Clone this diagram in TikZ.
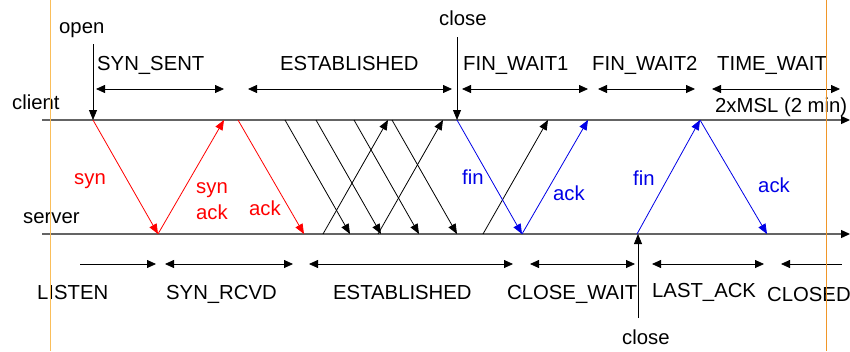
\documentclass[tikz,border=0pt]{standalone}
\usepackage{fontspec}
\setmainfont{Liberation Sans}
\usetikzlibrary{arrows.meta}
\definecolor{msgred}{RGB}{255,0,0}
\definecolor{msgblue}{RGB}{0,0,230}
\definecolor{axisgray}{RGB}{100,100,100}
\definecolor{orangeL}{RGB}{250,190,90}
\definecolor{orangeR}{RGB}{240,150,40}
\begin{document}
\begin{tikzpicture}[x=1pt,y=-1pt,
  lbl/.style={anchor=base west,inner sep=0pt,font=\fontsize{20.3}{23}\selectfont},
  axisline/.style={draw=axisgray,line width=1.3pt,-{Triangle[length=9pt,width=8pt,black]}},
  statearrow/.style={draw=black,line width=0.8pt,{Triangle[length=9pt,width=8pt]}-{Triangle[length=9pt,width=8pt]}},
  staterarrow/.style={draw=black,line width=0.8pt,-{Triangle[length=9pt,width=8pt]}},
  statelarrow/.style={draw=black,line width=0.8pt,{Triangle[length=9pt,width=8pt]}-},
  evarrow/.style={draw=black,line width=0.8pt,-{Triangle[length=10pt,width=8pt]}},
  msg/.style={line width=0.8pt,-{Triangle[length=10pt,width=8pt]}},
  redmsg/.style={msg,draw=msgred,color=msgred},
  bluemsg/.style={msg,draw=msgblue,color=msgblue},
  blackmsg/.style={msg,draw=black},
  orangeline/.style={line width=1pt}
]
\useasboundingbox (0,0) rectangle (850,351);
% axes
\coordinate (cl0) at (42,120); \coordinate (cl1) at (850,120);
\coordinate (sv0) at (42,234); \coordinate (sv1) at (850,234);
\draw[axisline] (cl0) -- (cl1);
\draw[axisline] (sv0) -- (sv1);
\node[lbl] (client) at (12,109) {client};
\node[lbl] (server) at (23,223) {server};

% open / close events
\node[lbl] (open) at (59,33) {open};
\coordinate (openA) at (93,44); \coordinate (openB) at (93,120);
\draw[evarrow] (openA) -- (openB);
\node[lbl] (closeT) at (439,25) {close};
\coordinate (closeTA) at (457,37); \coordinate (closeTB) at (457,120);
\draw[evarrow] (closeTA) -- (closeTB);
\node[lbl] (closeB) at (622,344) {close};
\coordinate (closeBA) at (638,318); \coordinate (closeBB) at (638,234);
\draw[evarrow] (closeBA) -- (closeBB);

% client states
\node[lbl] (synsent) at (97,70.7) {SYN\_SENT};
\coordinate (ss0) at (96,89); \coordinate (ss1) at (224,89);
\draw[statearrow] (ss0) -- (ss1);
\node[lbl] (estc) at (280,70.7) {ESTABLISHED};
\coordinate (ec0) at (248,89); \coordinate (ec1) at (452,89);
\draw[statearrow] (ec0) -- (ec1);
\node[lbl] (fw1) at (463,70.7) {FIN\_WAIT1};
\coordinate (f10) at (462,89); \coordinate (f11) at (588,89);
\draw[statearrow] (f10) -- (f11);
\node[lbl] (fw2) at (592,70.7) {FIN\_WAIT2};
\coordinate (f20) at (598,89); \coordinate (f21) at (695,89);
\draw[statearrow] (f20) -- (f21);
\node[lbl] (tw) at (717,70.7) {TIME\_WAIT};
\coordinate (tw0) at (712,89); \coordinate (tw1) at (840,89);
\draw[statearrow] (tw0) -- (tw1);
\node[lbl] (msl) at (715,112.5) {2xMSL (2 min)};

% server states
\node[lbl] (listen) at (37,299) {LISTEN};
\coordinate (li0) at (80,264); \coordinate (li1) at (156,264);
\draw[staterarrow] (li0) -- (li1);
\node[lbl] (synrcvd) at (166,299) {SYN\_RCVD};
\coordinate (sr0) at (165,264); \coordinate (sr1) at (293,264);
\draw[statearrow] (sr0) -- (sr1);
\node[lbl] (ests) at (333,299) {ESTABLISHED};
\coordinate (es0) at (309,264); \coordinate (es1) at (513,264);
\draw[statearrow] (es0) -- (es1);
\node[lbl] (cw) at (507,299) {CLOSE\_WAIT};
\coordinate (cw0) at (530,264); \coordinate (cw1) at (635,264);
\draw[statearrow] (cw0) -- (cw1);
\node[lbl] (la) at (652,297) {LAST\_ACK};
\coordinate (la0) at (652,264); \coordinate (la1) at (764,264);
\draw[statearrow] (la0) -- (la1);
\node[lbl] (closed) at (767,301) {CLOSED};
\coordinate (cd0) at (781,264); \coordinate (cd1) at (842,264);
\draw[statelarrow] (cd0) -- (cd1);

% handshake (red)
\coordinate (r1a) at (93,120); \coordinate (r1b) at (158,234);
\coordinate (r2a) at (158,234); \coordinate (r2b) at (224,120);
\coordinate (r3a) at (238,120); \coordinate (r3b) at (304,234);
\draw[redmsg] (r1a) -- (r1b);
\draw[redmsg] (r2a) -- (r2b);
\draw[redmsg] (r3a) -- (r3b);
\node[lbl,text=msgred] (lsyn) at (74,184) {syn};
\node[lbl,text=msgred] (lsyn2) at (196,193) {syn};
\node[lbl,text=msgred] (lack2) at (196,219) {ack};
\node[lbl,text=msgred] (lack3) at (249,215) {ack};

% data (black)
\coordinate (d1a) at (285,120); \coordinate (d1b) at (350,234);
\coordinate (d2a) at (316,120); \coordinate (d2b) at (381,234);
\coordinate (d3a) at (354,120); \coordinate (d3b) at (419,234);
\coordinate (d4a) at (392,120); \coordinate (d4b) at (457,234);
\coordinate (u1a) at (323,234); \coordinate (u1b) at (388,120);
\coordinate (u2a) at (378,234); \coordinate (u2b) at (443,120);
\coordinate (u3a) at (483,234); \coordinate (u3b) at (548,120);
\foreach \m in {d1,d2,d3,d4,u1,u2,u3}
  \draw[blackmsg] (\m a) -- (\m b);

% close (blue)
\coordinate (b1a) at (457,120); \coordinate (b1b) at (522,234);
\coordinate (b2a) at (522,234); \coordinate (b2b) at (588,120);
\coordinate (b3a) at (637,234); \coordinate (b3b) at (700,120);
\coordinate (b4a) at (700,120); \coordinate (b4b) at (767,234);
\foreach \m in {b1,b2,b3,b4}
  \draw[bluemsg] (\m a) -- (\m b);
\node[lbl,text=msgblue] (lfin1) at (462,184) {fin};
\node[lbl,text=msgblue] (lack4) at (553,200) {ack};
\node[lbl,text=msgblue] (lfin2) at (633,185) {fin};
\node[lbl,text=msgblue] (lack5) at (758,192) {ack};

% orange margin lines
\coordinate (oL0) at (50,0); \coordinate (oL1) at (50,351);
\coordinate (oR0) at (826,0); \coordinate (oR1) at (826,351);
\draw[orangeline,draw=orangeL] (oL0) -- (oL1);
\draw[orangeline,draw=orangeR] (oR0) -- (oR1);
\end{tikzpicture}
\end{document}
